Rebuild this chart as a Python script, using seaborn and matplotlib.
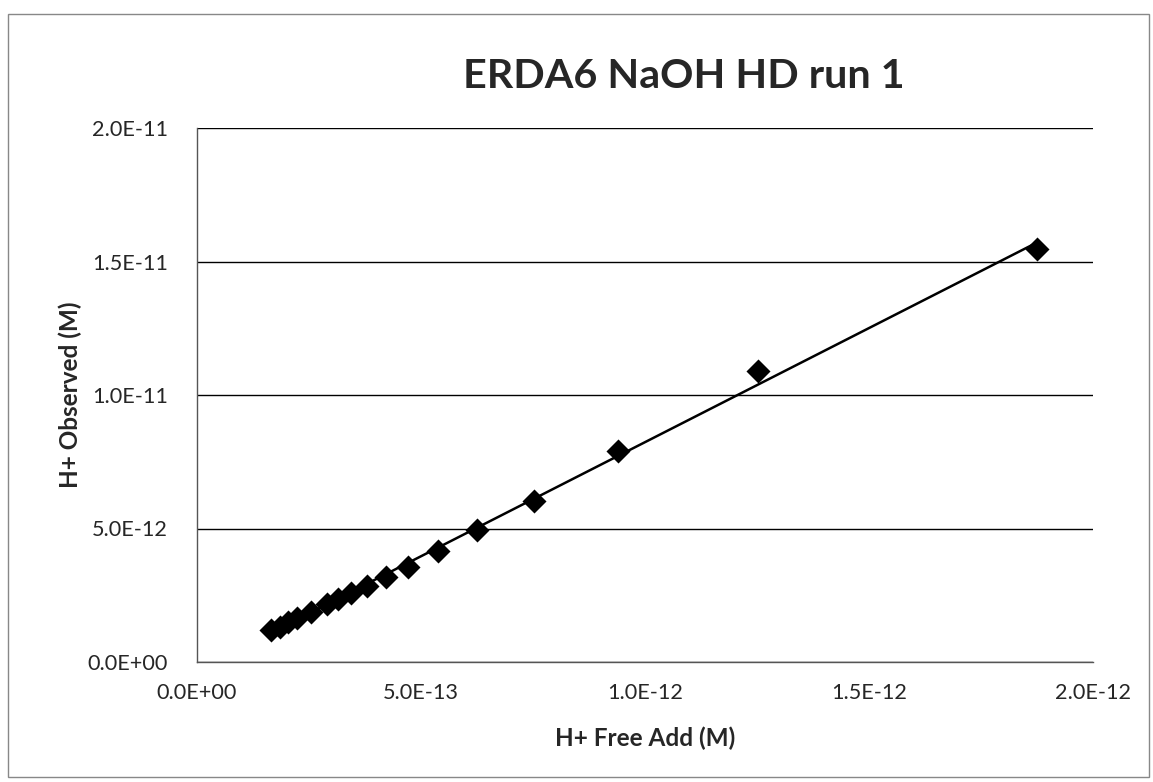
import numpy as np
import pandas as pd
import matplotlib
matplotlib.use("Agg")
import matplotlib.pyplot as plt
import seaborn as sns
from matplotlib.ticker import FuncFormatter
from matplotlib.patches import Rectangle

# Data (units: M)
h_free_add = [0.165e-12, 0.185e-12, 0.204e-12, 0.224e-12, 0.254e-12, 0.291e-12,
              0.314e-12, 0.344e-12, 0.379e-12, 0.421e-12, 0.472e-12, 0.537e-12,
              0.626e-12, 0.752e-12, 0.940e-12, 1.253e-12, 1.876e-12]
h_observed = [1.20e-12, 1.32e-12, 1.48e-12, 1.64e-12, 1.89e-12, 2.18e-12,
              2.36e-12, 2.60e-12, 2.83e-12, 3.18e-12, 3.55e-12, 4.17e-12,
              4.93e-12, 6.02e-12, 7.92e-12, 10.9e-12, 15.45e-12]
x_ticks = [0.0, 0.5e-12, 1.0e-12, 1.5e-12, 2.0e-12]
y_ticks = [0.0, 5e-12, 10e-12, 15e-12, 20e-12]
title = "ERDA6 NaOH HD run 1"
x_label = "H+ Free Add (M)"
y_label = "H+ Observed (M)"

df = pd.DataFrame({"x": h_free_add, "y": h_observed})

sns.set_theme(style="white")
plt.rcParams['font.family'] = ['Lato', 'DejaVu Sans']

W, H = 1153, 782
fig = plt.figure(figsize=(W / 100, H / 100), dpi=100)
ax = fig.add_axes([197 / W, 1 - 662 / H, (1093 - 197) / W, (662 - 128) / H])

# linear trendline
coef = np.polyfit(df["x"], df["y"], 1)
xs = np.array([df["x"].min(), df["x"].max()])
trend = pd.DataFrame({"x": xs, "y": np.polyval(coef, xs)})
sns.lineplot(data=trend, x="x", y="y", ax=ax, color="black", lw=1.8, zorder=3)

sns.scatterplot(data=df, x="x", y="y", ax=ax, marker="D", s=150, color="black",
                edgecolor="black", linewidth=0, zorder=4)

ax.set_xlim(x_ticks[0], x_ticks[-1])
ax.set_ylim(y_ticks[0], y_ticks[-1])
ax.set_xticks(x_ticks)
ax.set_yticks(y_ticks)


def fmt(v, pos):
    if abs(v) < 1e-30:
        return "0.0E+00"
    e = int(np.floor(np.log10(abs(v)) + 1e-9))
    m = v / 10 ** e
    return f"{m:.1f}E+{e:02d}" if e >= 0 else f"{m:.1f}E-{abs(e):02d}"


ax.xaxis.set_major_formatter(FuncFormatter(fmt))
ax.yaxis.set_major_formatter(FuncFormatter(fmt))

ax.grid(axis="y", color="black", lw=1.0)
ax.grid(axis="x", visible=False)
for s in ["top", "right"]:
    ax.spines[s].set_visible(False)
for s in ["left", "bottom"]:
    ax.spines[s].set_color("#555555")
    ax.spines[s].set_linewidth(1.0)

ax.set_xlabel("")
ax.set_ylabel("")

# measure helper to size fonts to the reference text widths
renderer = fig.canvas.get_renderer()


def fit_size(text, target_w, weight="normal"):
    t = fig.text(0, 0, text, fontsize=20, fontweight=weight)
    w = t.get_window_extent(renderer).width
    t.remove()
    return 20 * target_w / w


tick_fs = fit_size("0.0E+00", 80)
title_fs = fit_size(title, 440, "bold")
xlab_fs = fit_size(x_label, 180, "bold")

ax.tick_params(axis="x", direction="inout", length=12, width=1, color="#555555",
               labelsize=tick_fs, pad=9)
ax.tick_params(axis="y", direction="out", length=5, width=1, color="#555555",
               labelsize=tick_fs, pad=16)

fig.text(684 / W, 1 - 77 / H, title, fontsize=title_fs, fontweight="bold",
         ha="center", va="center")
fig.text(645 / W, 1 - 738 / H, x_label, fontsize=xlab_fs, fontweight="bold",
         ha="center", va="center")
fig.text(70 / W, 1 - 395 / H, y_label, fontsize=xlab_fs, fontweight="bold",
         ha="center", va="center", rotation=90)

fig.patches.append(Rectangle((8 / W, 1 - 777 / H), (1149 - 8) / W, (777 - 14) / H,
                             transform=fig.transFigure, fill=False,
                             edgecolor="#888888", lw=1.0))

fig.savefig("out.png", dpi=100)
